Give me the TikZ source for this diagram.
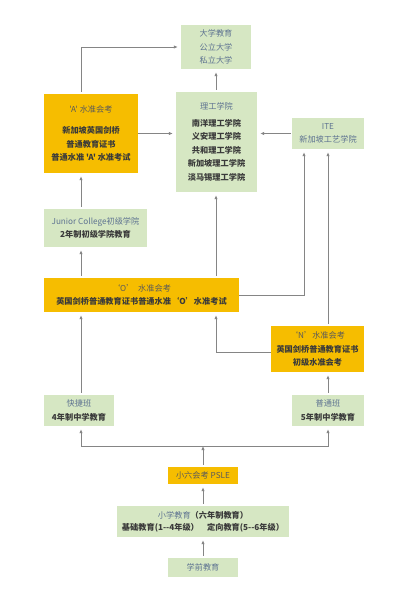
\documentclass[tikz,border=0pt]{standalone}
\usepackage{fontspec}
\newfontfamily\cjk{Noto Sans CJK SC}
\usetikzlibrary{arrows.meta}
\definecolor{gbox}{HTML}{D6E7C3}
\definecolor{obox}{HTML}{F6BD00}
\definecolor{ttlc}{HTML}{5E7391}
\definecolor{otl}{HTML}{5A5A5A}
\definecolor{bdy}{HTML}{3A3A3A}
\definecolor{arr}{HTML}{858585}
\newcommand\hd[1]{{\mdseries\color{ttlc}#1}}
\newcommand\ho[1]{{\mdseries\color{otl}#1}}
\begin{document}
\begin{tikzpicture}[x=1pt,y=-1pt,
  box/.style={rectangle, inner sep=0pt, align=center, text=bdy,
    font=\cjk\bfseries\fontsize{8.2}{13.5}\selectfont},
  gbx/.style={box, fill=gbox},
  obx/.style={box, fill=obox},
  al/.style={draw=arr, line width=0.8pt, -{Latex[length=4pt,width=3.4pt]},
    shorten <=2pt, shorten >=3pt}]
\useasboundingbox[fill=white] (0,0) rectangle (410,607);
\coordinate (cl) at (81,0);
\coordinate (cx) at (216,0);
\coordinate (cr) at (328,0);
\coordinate (co) at (304,0);

\node[gbx, minimum width=70pt, minimum height=44pt] (uni) at (216,47)
  {\hd{大学教育}\\\hd{公立大学}\\\hd{私立大学}};
\node[obx, minimum width=94pt, minimum height=79pt] (alevel) at (91,133.5)
  {\ho{'A' 水准会考}\\[8pt]新加坡英国剑桥\\普通教育证书\\普通水准 'A' 水准考试};
\node[gbx, minimum width=81pt, minimum height=100pt] (poly) at (216.5,142)
  {\hd{理工学院}\\[3pt]南洋理工学院\\义安理工学院\\共和理工学院\\新加坡理工学院\\淡马锡理工学院};
\node[gbx, minimum width=72pt, minimum height=31pt] (ite) at (328,133.5)
  {\hd{ITE}\\\hd{新加坡工艺学院}};
\node[gbx, minimum width=103pt, minimum height=38pt] (jc) at (95.5,228)
  {\hd{Junior College初级学院}\\2年制初级学院教育};
\node[obx, minimum width=195pt, minimum height=34pt] (olevel) at (141.5,295)
  {\ho{‘O’\ \ 水准会考}\\英国剑桥普通教育证书普通水准‘O’水准考试};
\node[obx, minimum width=93pt, minimum height=46pt] (nlevel) at (317.5,349)
  {\ho{‘N’水准会考}\\英国剑桥普通教育证书\\初级水准会考};
\node[gbx, minimum width=70pt, minimum height=31pt] (express) at (79,410.5)
  {\hd{快捷班}\\4年制中学教育};
\node[gbx, minimum width=72pt, minimum height=31pt] (normal) at (328,410.5)
  {\hd{普通班}\\5年制中学教育};
\node[obx, minimum width=70pt, minimum height=17pt] (psle) at (203,475.5)
  {\ho{小六会考 PSLE}};
\node[gbx, minimum width=172pt, minimum height=31pt] (primary) at (203,521.5)
  {\hd{小学教育}（六年制教育）\\[-1.5pt]基础教育(1--4年级）\quad 定向教育(5--6年级）};
\node[gbx, minimum width=70pt, minimum height=19pt] (pre) at (203,567.5)
  {\hd{学前教育}};

\coordinate (split) at (203,446);

\draw[al] (alevel.north -| cl) |- (uni.west);
\draw[al] (poly.north -| cx) -- (uni.south -| cx);
\draw[al, shorten <=0pt] (alevel.east) -- (alevel.east -| poly.west);
\draw[al, shorten <=1pt] (ite.west) -- (ite.west -| poly.east);
\draw[al, shorten <=0pt] (olevel.east) -| (ite.south -| co);
\draw[al] (nlevel.north -| cr) -- (ite.south -| cr);
\draw[al] (jc.north -| cl) -- (alevel.south -| cl);
\draw[al] (olevel.north -| cl) -- (jc.south -| cl);
\draw[al] (olevel.north -| cx) -- (poly.south -| cx);
\draw[al, shorten <=0pt] ([yshift=-3pt]nlevel.west) -| (olevel.south -| cx);
\draw[al] (express.north -| cl) -- (olevel.south -| cl);
\draw[al] (normal.north -| cr) -- (nlevel.south -| cr);
\draw[al, shorten >=0pt] (psle.north) -- (split);
\draw[al, shorten <=0pt] (split) -| (express.south -| cl);
\draw[al, shorten <=0pt] (split) -| (normal.south -| cr);
\draw[al] (primary.north) -- (psle.south);
\draw[al] (pre.north) -- (primary.south);
\end{tikzpicture}
\end{document}
